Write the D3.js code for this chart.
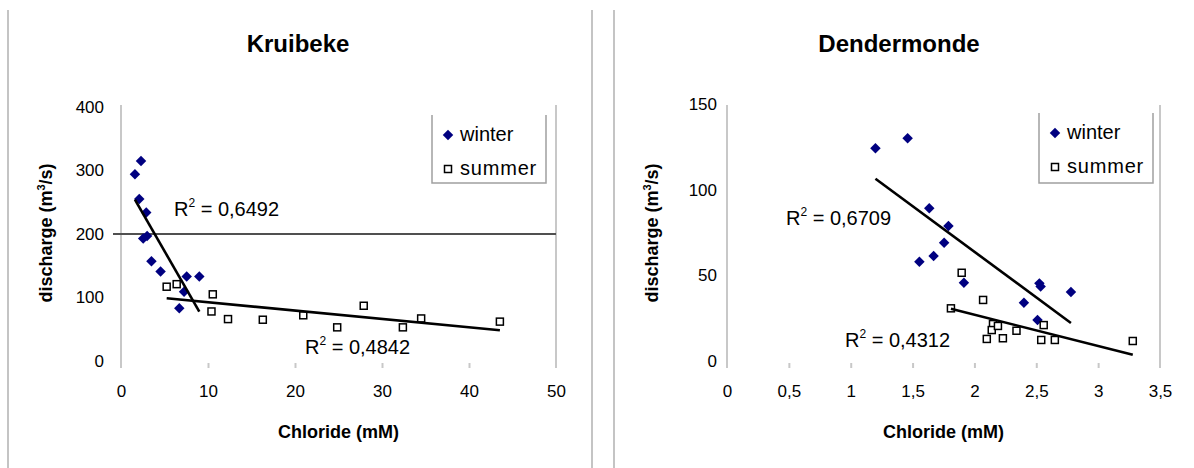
<!DOCTYPE html>
<html>
<head>
<meta charset="utf-8">
<script src="https://cdn.jsdelivr.net/npm/d3@7"></script>
<style>
  body { margin: 0; background: #fff; }
  text { font-family: "Liberation Sans", Arial, sans-serif; fill: #000; }
</style>
</head>
<body>
<svg id="chart" width="1194" height="468"></svg>
<script>
// Kruibeke: chloride (mM) vs discharge (m3/s)
const kruWinterCl = [1.6, 2.3, 2.1, 2.9, 2.55, 3.0, 3.5, 4.55, 7.55, 9.0, 7.25, 6.7];
const kruWinterQ  = [294, 315, 255, 234, 193, 197, 157, 141, 133, 133, 109, 83];
const kruSummerCl = [5.25, 6.4, 10.55, 10.4, 12.3, 16.3, 20.95, 24.85, 27.9, 32.4, 34.5, 43.55];
const kruSummerQ  = [117, 121, 105, 78, 66, 65, 72, 53, 87, 53, 67, 62];
const kruXTicks = [0, 10, 20, 30, 40, 50];
const kruYTicks = [0, 100, 200, 300, 400];
const kruR2 = ["0,6492", "0,4842"];

// Dendermonde
const denWinterCl = [1.2, 1.46, 1.635, 1.79, 1.755, 1.555, 1.67, 1.915, 2.525, 2.535, 2.4, 2.51, 2.78];
const denWinterQ  = [124.4, 130.2, 89.3, 79, 69.2, 58.1, 61.4, 45.8, 45.4, 43.5, 34.1, 24, 40.4];
const denSummerCl = [1.897, 2.07, 1.81, 2.15, 2.14, 2.19, 2.34, 2.1, 2.23, 2.56, 2.54, 2.65, 3.28];
const denSummerQ  = [51.6, 35.7, 30.8, 21.6, 18.1, 20.5, 17.7, 12.9, 13.3, 21, 12.3, 12.3, 11.7];
const denXTicks = [0, 0.5, 1, 1.5, 2, 2.5, 3, 3.5];
const denYTicks = [0, 50, 100, 150];
const denR2 = ["0,6709", "0,4312"];

const seriesNames = ["winter", "summer"];

const svg = d3.select("#chart");
const comma = v => String(v).replace(".", ",");

// least-squares line through a series
function fit(xs, ys) {
  const mx = d3.mean(xs), my = d3.mean(ys);
  let sxy = 0, sxx = 0;
  xs.forEach((x, i) => { sxy += (x - mx) * (ys[i] - my); sxx += (x - mx) ** 2; });
  const b = sxy / sxx;
  return { b, a: my - b * mx };
}

const diamond = d3.symbol().type(d3.symbolDiamond2 || d3.symbolDiamond).size(70);

function drawPanel(p) {
  const g = svg.append("g");
  const x = d3.scaleLinear().domain(p.xDomain).range([p.left, p.right]);
  const y = d3.scaleLinear().domain(p.yDomain).range([p.bottom, p.yTopValuePx]);

  // panel frame lines
  p.frame.forEach(fx => g.append("line")
    .attr("x1", fx).attr("x2", fx).attr("y1", 10).attr("y2", 468)
    .attr("stroke", "#c4c4c4").attr("stroke-width", 2));

  // title
  g.append("text").attr("x", p.titleX).attr("y", 52)
    .attr("text-anchor", "middle").attr("font-size", 24).attr("font-weight", "bold")
    .text(p.title);

  // y axis line and right border
  [p.left, p.right].forEach(lx => g.append("line")
    .attr("x1", lx).attr("x2", lx).attr("y1", p.top).attr("y2", p.bottom + 7)
    .attr("stroke", "#c8c8c8").attr("stroke-width", 2));

  // x axis ticks and labels
  const xa = g.append("g").attr("transform", `translate(0,${p.bottom})`)
    .call(d3.axisBottom(x).tickValues(p.xTicks).tickSize(7).tickPadding(17).tickFormat(comma));
  xa.select(".domain").remove();
  xa.selectAll(".tick line").attr("stroke", "#c8c8c8").attr("stroke-width", 2).attr("y1", 2)
    .filter(d => d === p.xDomain[0] || d === p.xDomain[1]).remove();
  xa.selectAll(".tick text").attr("font-size", 17).attr("fill", "#000");

  // y axis labels
  const ya = g.append("g").attr("transform", `translate(${p.yLabelRight},0)`)
    .call(d3.axisLeft(y).tickValues(p.yTicks).tickSize(0).tickPadding(0));
  ya.select(".domain").remove();
  ya.selectAll(".tick text").attr("font-size", 17).attr("fill", "#000");

  // axis titles
  g.append("text")
    .attr("x", (p.left + p.right) / 2).attr("y", 438)
    .attr("text-anchor", "middle").attr("font-size", 18).attr("font-weight", "bold")
    .text("Chloride (mM)");
  const yt = g.append("text")
    .attr("transform", `translate(${p.yTitleX},${(p.top + p.bottom) / 2}) rotate(-90)`)
    .attr("text-anchor", "middle").attr("font-size", 18).attr("font-weight", "bold");
  yt.append("tspan").text("discharge (m");
  yt.append("tspan").attr("font-size", 11).attr("dy", -7).text("3");
  yt.append("tspan").attr("dy", 7).text("/s)");

  // reference line
  if (p.refLine != null) {
    g.append("line").attr("x1", p.left - 8).attr("x2", p.right)
      .attr("y1", y(p.refLine)).attr("y2", y(p.refLine))
      .attr("stroke", "#505050").attr("stroke-width", 1.8);
  }

  // points
  const winter = p.winterX.map((v, i) => [v, p.winterY[i]]);
  const summer = p.summerX.map((v, i) => [v, p.summerY[i]]);

  g.selectAll(".w").data(winter).join("path").attr("class", "w")
    .attr("d", diamond)
    .attr("transform", d => `translate(${x(d[0])},${y(d[1])})`)
    .attr("fill", "#000080");
  g.selectAll(".s").data(summer).join("rect").attr("class", "s")
    .attr("x", d => x(d[0]) - 3.5).attr("y", d => y(d[1]) - 3.5)
    .attr("width", 7).attr("height", 7)
    .attr("fill", "#fff").attr("stroke", "#000").attr("stroke-width", 1.5);

  // linear trendlines
  [[p.winterX, p.winterY], [p.summerX, p.summerY]].forEach(([xs, ys]) => {
    const f = fit(xs, ys);
    const [x0, x1] = d3.extent(xs);
    g.append("line")
      .attr("x1", x(x0)).attr("y1", y(f.a + f.b * x0))
      .attr("x2", x(x1)).attr("y2", y(f.a + f.b * x1))
      .attr("stroke", "#000").attr("stroke-width", 2.6);
  });

  // R² labels
  p.r2.forEach((val, i) => {
    const t = g.append("text").attr("x", p.r2Pos[i][0]).attr("y", p.r2Pos[i][1])
      .attr("font-size", 20);
    t.append("tspan").text("R");
    t.append("tspan").attr("font-size", 12).attr("dy", -9).text("2");
    t.append("tspan").attr("dy", 9).text(" = " + val);
  });

  // legend
  const L = p.legend;
  const lg = g.append("g");
  lg.append("path").attr("d", `M${L.x0},${L.y0}V${L.y1}H${L.x1}V${L.y0}`)
    .attr("fill", "none").attr("stroke", "#a0a0a0").attr("stroke-width", 1.5);
  seriesNames.forEach((name, i) => {
    const cy = L.y0 + 20 + i * 34;
    if (i === 0) {
      lg.append("path").attr("d", diamond).attr("transform", `translate(${L.x0 + 16},${cy})`)
        .attr("fill", "#000080");
    } else {
      lg.append("rect").attr("x", L.x0 + 12.5).attr("y", cy - 3.5).attr("width", 7).attr("height", 7)
        .attr("fill", "#fff").attr("stroke", "#000").attr("stroke-width", 1.5);
    }
    lg.append("text").attr("x", L.x0 + 28).attr("y", cy + 6).attr("font-size", 20)
      .attr("letter-spacing", i === 1 ? 0.8 : 0).text(name);
  });
}

drawPanel({
  title: "Kruibeke", titleX: 298,
  xDomain: [0, 50], yDomain: [0, 400],
  left: 121, right: 556, bottom: 361, yTopValuePx: 107, top: 105,
  xTicks: kruXTicks, yTicks: kruYTicks,
  yLabelRight: 104, yTitleX: 52,
  frame: [8, 592],
  refLine: 200,
  winterX: kruWinterCl, winterY: kruWinterQ,
  summerX: kruSummerCl, summerY: kruSummerQ,
  r2: kruR2, r2Pos: [[174, 216], [305, 354]],
  legend: { x0: 432, x1: 546, y0: 115, y1: 183 }
});

drawPanel({
  title: "Dendermonde", titleX: 899,
  xDomain: [0, 3.5], yDomain: [0, 150],
  left: 727, right: 1160, bottom: 361, yTopValuePx: 104.5, top: 105,
  xTicks: denXTicks, yTicks: denYTicks,
  yLabelRight: 717, yTitleX: 658,
  frame: [614],
  refLine: null,
  winterX: denWinterCl, winterY: denWinterQ,
  summerX: denSummerCl, summerY: denSummerQ,
  r2: denR2, r2Pos: [[786, 225], [845, 347]],
  legend: { x0: 1039, x1: 1153, y0: 113, y1: 183 }
});
</script>
</body>
</html>
